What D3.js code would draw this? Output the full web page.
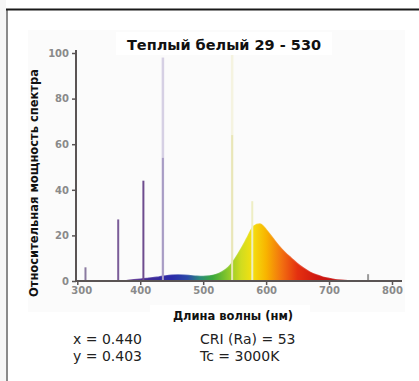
<!DOCTYPE html>
<html><head><meta charset="utf-8">
<script src="https://cdn.jsdelivr.net/npm/d3@7"></script>
<style>body{margin:0;background:#fff}svg{display:block}</style>
</head><body>
<svg id="c" width="419" height="381"></svg>
<script>
// ---- data ----
const title = "Теплый белый 29 - 530";
const xLabel = "Длина волны (нм)";
const yLabel = "Относительная мощность спектра";
const xTicks = [300, 400, 500, 600, 700, 800];
const yTicks = [0, 20, 40, 60, 80, 100];
// continuous (phosphor) spectrum
const contWl  = [300,370,380,390,400,410,420,430,440,450,460,470,480,490,500,510,520,530,540,550,560,570,580,590,600,610,620,630,640,650,660,670,680,690,700,710,720,730,740,800];
const contVal = [0,0,0.2,0.5,0.8,1.1,1.4,1.8,2.2,2.5,2.6,2.5,2.3,2.1,2.0,2.2,2.8,4,6,9.5,14,19,24,25,22.5,19,15.5,12.5,10,7.5,5.5,3.8,2.6,1.7,1.1,0.6,0.3,0.1,0,0];
// emission lines (mercury)
const lineWl    = [313, 365, 405, 436, 546, 578, 762];
const lineVal   = [6, 27, 44, 54, 64, 35, 3];
const lineGhost = [0, 0, 0, 98, 100, 0, 0];
const lineColor = ["#8a7aa0", "#7a5c98", "#6e4c8e", "#a89cc4", "#e9e6b8", "#eeeec4", "#9a9a9a"];
const ghostColor = ["", "", "", "#d6d0e4", "#f5f3e0", "", ""];
const info1 = ["x = 0.440", "y = 0.403"];
const info2 = ["CRI (Ra) = 53", "Tc = 3000K"];
// spectral color stops
const stopWl  = [380, 420, 450, 475, 495, 515, 540, 560, 578, 600, 625, 650, 680, 720];
const stopCol = ["#5a2a8a","#3c2a9a","#2a2aa8","#2a48a8","#2a8a7a","#3aa83a","#8cc82a","#d0dc20","#f4e010","#f8b400","#f27010","#e43010","#d01810","#c01010"];

const svg = d3.select("#c");
const font = "DejaVu Sans, Verdana, sans-serif";

// frame
svg.append("rect").attr("x",0).attr("y",0).attr("width",6).attr("height",381).attr("fill","#f6f6f6");
svg.append("rect").attr("x",28).attr("y",30).attr("width",377).attr("height",282).attr("fill","#fbfbfb");
svg.append("line").attr("x1",7).attr("x2",7).attr("y1",9).attr("y2",381).attr("stroke","#8a8a8a").attr("stroke-width",2);
svg.append("line").attr("x1",6).attr("x2",419).attr("y1",9.5).attr("y2",9.5).attr("stroke","#1a1a1a").attr("stroke-width",2);

const x = d3.scaleLinear().domain([300, 800]).range([77.3, 392]);
const y = d3.scaleLinear().domain([0, 100]).range([281, 53]);

// gradient
const defs = svg.append("defs");
const g = defs.append("linearGradient").attr("id","spec").attr("gradientUnits","userSpaceOnUse")
  .attr("x1", x(300)).attr("x2", x(800)).attr("y1",0).attr("y2",0);
stopWl.forEach((w,i)=>g.append("stop").attr("offset", (w-300)/500).attr("stop-color", stopCol[i]));

// ghost lines
lineWl.forEach((w,i)=>{
  if (lineGhost[i] > 0) svg.append("line").attr("x1",x(w)).attr("x2",x(w)).attr("y1",y(0)).attr("y2",y(lineGhost[i]))
    .attr("stroke",ghostColor[i]).attr("stroke-width",2.5);
});

// continuum area
const cont = contWl.map((w,i)=>({w, v:contVal[i]}));
const area = d3.area().x(d=>x(d.w)).y0(y(0)).y1(d=>y(d.v)).curve(d3.curveMonotoneX);
svg.append("path").datum(cont).attr("d", area).attr("fill","url(#spec)");
svg.append("path").datum(cont).attr("d", d3.line().x(d=>x(d.w)).y(d=>y(d.v)).curve(d3.curveMonotoneX))
  .attr("fill","none").attr("stroke","url(#spec)").attr("stroke-width",1.5).attr("opacity",0.8);

// lines
lineWl.forEach((w,i)=>{
  svg.append("line").attr("x1",x(w)).attr("x2",x(w)).attr("y1",y(0)).attr("y2",y(lineVal[i]))
    .attr("stroke",lineColor[i]).attr("stroke-width",2);
});

// axes
const axCol = "#5a5454";
const ya = svg.append("g").attr("transform","translate(76,0)")
  .call(d3.axisLeft(y).tickValues(yTicks).tickSize(4).tickPadding(3));
ya.select(".domain").remove();
ya.selectAll("line").attr("stroke",axCol).attr("stroke-width",1.5);
ya.selectAll("text").attr("fill","#8a8a8a").attr("font-size",10).attr("font-weight","bold").attr("font-family",font);
svg.append("line").attr("x1",76).attr("x2",76).attr("y1",50).attr("y2",282).attr("stroke",axCol).attr("stroke-width",2);

const xa = svg.append("g").attr("transform","translate(0,281)")
  .call(d3.axisBottom(x).tickValues(xTicks).tickSize(4).tickPadding(2));
xa.select(".domain").remove();
xa.selectAll("line").attr("stroke",axCol).attr("stroke-width",1.5);
xa.selectAll("text").attr("fill","#8a8a8a").attr("font-size",10).attr("font-weight","bold").attr("font-family",font)
  .attr("dx",(d)=> d===300 ? 4 : 0);
svg.append("line").attr("x1",75).attr("x2",402).attr("y1",281).attr("y2",281).attr("stroke",axCol).attr("stroke-width",2);

// title
svg.append("rect").attr("x",116).attr("y",32).attr("width",216).attr("height",23).attr("fill","#fff");
svg.append("text").attr("x",224).attr("y",50).attr("text-anchor","middle").attr("font-family",font)
  .attr("font-weight","bold").attr("font-size",14.5).attr("fill","#111").text(title);
// axis labels
svg.append("rect").attr("x",150).attr("y",305).attr("width",160).attr("height",20).attr("fill","#fff");
svg.append("text").attr("x",233).attr("y",320).attr("text-anchor","middle").attr("font-family",font)
  .attr("font-weight","bold").attr("font-size",11.5).attr("fill","#111").text(xLabel);
svg.append("text").attr("transform","translate(37.5,183) rotate(-90)").attr("text-anchor","middle").attr("font-family",font)
  .attr("font-weight","bold").attr("font-size",11.5).attr("fill","#111").text(yLabel);
// info
info1.forEach((t,i)=>svg.append("text").attr("x",73).attr("y",344+i*17).attr("font-family",font)
  .attr("font-size",14).attr("fill","#222").text(t));
info2.forEach((t,i)=>svg.append("text").attr("x",200).attr("y",344+i*17).attr("font-family",font)
  .attr("font-size",14).attr("fill","#222").text(t));
</script>
</body></html>
